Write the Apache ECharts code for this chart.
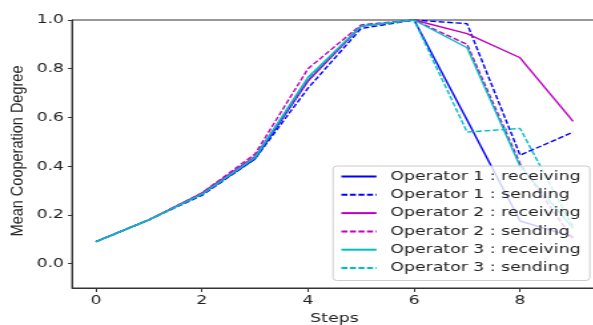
<!DOCTYPE html>
<html>
<head>
<meta charset="utf-8">
<script src="https://cdn.jsdelivr.net/npm/echarts@6/dist/echarts.min.js"></script>
<style>
  html, body { margin: 0; padding: 0; background: #fff; overflow: hidden; }
  /* the source picture is stretched sideways, so draw narrow and stretch */
  #chart { width: 446px; height: 325px; transform: scaleX(1.331); transform-origin: 0 0; }
</style>
</head>
<body>
<div id="chart"></div>
<script>
// steps on x axis
var steps = [0, 1, 2, 3, 4, 5, 6, 7, 8, 9];
// series values
var op1Recv = [0.09, 0.18, 0.285, 0.43, 0.75, 0.975, 1.0, 0.59, 0.175, 0.11];
var op1Send = [0.09, 0.18, 0.28, 0.43, 0.72, 0.965, 1.0, 0.985, 0.445, 0.54];
var op2Recv = [0.09, 0.18, 0.29, 0.44, 0.75, 0.975, 1.0, 0.944, 0.845, 0.584];
var op2Send = [0.09, 0.18, 0.29, 0.45, 0.80, 0.98, 1.0, 0.90, 0.41, 0.10];
var op3Recv = [0.09, 0.18, 0.285, 0.435, 0.765, 0.975, 1.0, 0.886, 0.40, 0.145];
var op3Send = [0.09, 0.18, 0.285, 0.435, 0.76, 0.975, 1.0, 0.54, 0.555, 0.15];
// tick labels
var xTicks = [0, 2, 4, 6, 8];
var yTicks = [0.0, 0.2, 0.4, 0.6, 0.8, 1.0];

var sx = 1.331; // horizontal stretch of the whole chart
var font = 'DejaVu Sans';

function pairs(vals) {
    return steps.map(function (s, i) { return [s, vals[i]]; });
}

function mkSeries(name, vals, color, dashed) {
    return {
        name: name,
        type: 'line',
        data: pairs(vals),
        symbol: 'none',
        showSymbol: false,
        animation: false,
        lineStyle: {
            color: color,
            width: 1.4,
            type: dashed ? [4.5, 1.9] : 'solid'
        },
        itemStyle: { color: color }
    };
}

var myChart = echarts.init(document.getElementById('chart'));

var option = {
    animation: false,
    grid: {
        left: 54.1,
        top: 20,
        width: 394.4,
        height: 268,
        outerBoundsMode: 'none', // plot runs a little past the right edge
        show: true,
        borderColor: '#333',
        borderWidth: 1
    },
    // y axis title, squeezed back so it is not stretched
    graphic: [{
        type: 'text',
        x: 13.1,
        y: 151,
        rotation: Math.PI / 2,
        scaleY: 0.85,
        style: {
            text: 'Mean Cooperation Degree',
            fontFamily: 'Liberation Sans',
            fontSize: 14.5,
            fill: '#222',
            align: 'center',
            verticalAlign: 'middle'
        }
    }],
    legend: {
        left: 250.2,
        top: 166,
        orient: 'vertical',
        itemWidth: 26.3,
        itemHeight: 14,
        itemGap: 5.3,
        padding: [4, 7, 6, 5.3],
        backgroundColor: 'rgba(255,255,255,0.8)',
        borderColor: '#ccc',
        borderWidth: 1,
        borderRadius: 3,
        itemStyle: { opacity: 0 },
        textStyle: {
            fontFamily: font,
            fontSize: 13,
            color: '#222',
            padding: [0, 0, 0, 5.5]
        }
    },
    xAxis: {
        type: 'value',
        min: -0.45,
        max: 9.45,
        name: 'Steps',
        nameLocation: 'middle',
        nameGap: 22,
        nameTextStyle: { fontFamily: font, fontSize: 13, color: '#222' },
        splitLine: { show: false },
        axisLine: { show: true, onZero: false, lineStyle: { color: '#333', width: 1 } },
        axisTick: { show: true, length: 4, customValues: xTicks, lineStyle: { color: '#333' } },
        axisLabel: {
            customValues: xTicks,
            margin: 6,
            fontFamily: font,
            fontSize: 13,
            color: '#222'
        }
    },
    yAxis: {
        type: 'value',
        min: -0.1,
        max: 1.0,
        splitLine: { show: false },
        axisLine: { show: true, onZero: false, lineStyle: { color: '#333', width: 1 } },
        axisTick: { show: true, length: 3, customValues: yTicks, lineStyle: { color: '#333' } },
        axisLabel: {
            customValues: yTicks,
            margin: 6,
            fontFamily: font,
            fontSize: 13,
            color: '#222',
            formatter: function (v) { return v.toFixed(1); }
        }
    },
    series: [
        mkSeries('Operator 1 : receiving', op1Recv, '#0000ff', false),
        mkSeries('Operator 1 : sending', op1Send, '#0000ff', true),
        mkSeries('Operator 2 : receiving', op2Recv, '#bf00bf', false),
        mkSeries('Operator 2 : sending', op2Send, '#bf00bf', true),
        mkSeries('Operator 3 : receiving', op3Recv, '#00bfbf', false),
        mkSeries('Operator 3 : sending', op3Send, '#00bfbf', true)
    ]
};

myChart.setOption(option);
</script>
</body>
</html>
